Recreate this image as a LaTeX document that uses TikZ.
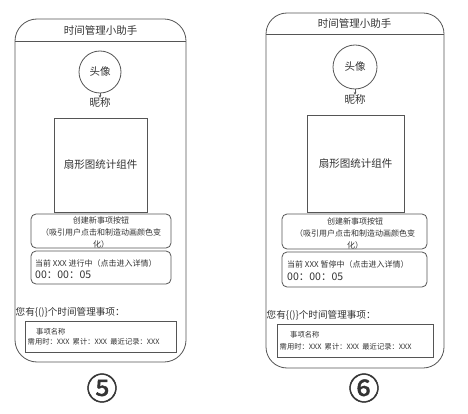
\documentclass[tikz,border=0pt]{standalone}
\usepackage{fontspec}
\setmainfont{Noto Sans CJK SC}
\newfontfamily\numfont[FakeBold=1.5]{Noto Sans CJK SC}
\usetikzlibrary{arrows.meta}
\definecolor{lc}{HTML}{555555}
\definecolor{tc}{HTML}{333333}
\tikzset{
  frame/.style={draw=lc, line width=0.8pt},
  box/.style={draw=lc, line width=0.8pt, rounded corners=5pt},
  txt/.style={text=tc, inner sep=0pt},
  ft/.style={font=\fontsize{10.5}{12}\selectfont},
  fs/.style={font=\fontsize{8}{12}\selectfont},
  fxs/.style={font=\fontsize{7.3}{9}\selectfont},
  fnum/.style={font=\fontsize{10.5}{12}\selectfont},
  fmid/.style={font=\fontsize{9.6}{12}\selectfont},
  avatar/.style={circle, draw=lc, line width=0.8pt, text=tc, inner sep=0pt},
  conn/.style={draw=lc, line width=0.6pt, -{Stealth[length=3pt,width=2.5pt]}},
  bigno/.style={text=tc, inner sep=0pt, font=\numfont\fontsize{31}{34}\selectfont}
}
\begin{document}
\begin{tikzpicture}[x=1pt,y=-1pt]
\useasboundingbox (0,0) rectangle (468,414);
\fill[white] (0,0) rectangle (468,414);
% ===== phone 5 =====
\draw[frame, rounded corners=22pt] (15,19) rectangle (186,362);
\draw[frame] (15,41) -- (186,41);
\node[txt, ft] (t5) at (100.5,30.5) {时间管理小助手};
\node[avatar, minimum size=42pt, ft] (a5) at (100,72) {头像};
\node[txt, ft] (n5) at (100,103) {昵称};
\draw[conn] (a5.south) -- (n5.north);
\draw[frame] (54,118) rectangle (147,212);
\node[txt, ft] (p5) at (100.5,165) {扇形图统计组件};
\draw[box] (31,214) rectangle (171,248);
\node[txt, fs, align=center] (b5) at (101,233) {创建新事项按钮\\（吸引用户点击和制造动画颜色变\\化）};
\draw[box] (31,251) rectangle (171,284);
\node[txt, fs, anchor=west] (s5) at (35,263) {当前 XXX 进行中（点击进入详情）};
\node[txt, fnum, anchor=west] (c5) at (35,274.5) {00：00：05};
\node[txt, fmid, anchor=west] (y5) at (15.5,312) {您有\{()\}个时间管理事项：};
\draw[frame] (25,321) rectangle (176,352);
\node[txt, fxs, anchor=west] (i5) at (36,332) {事项名称};
\node[txt, fxs, anchor=west] (d5) at (27.5,342) {需用时：XXX\ \ 累计：XXX\ \ 最近记录：XXX};
\node[bigno] (m5) at (102,388) {⑤};
% ===== phone 6 =====
\draw[frame, rounded corners=21pt] (266,13) rectangle (444,368);
\draw[frame] (266,34) -- (444,34);
\node[txt, ft] (t6) at (354.5,24) {时间管理小助手};
\node[avatar, minimum size=44pt, ft] (a6) at (355,67) {头像};
\node[txt, ft] (n6) at (355,100) {昵称};
\draw[conn] (a6.south) -- (n6.north);
\draw[frame] (307,115) rectangle (404,212);
\node[txt, ft] (p6) at (355.5,164) {扇形图统计组件};
\draw[box] (282,214) rectangle (427,249);
\node[txt, fs, align=center] (b6) at (355,233.5) {创建新事项按钮\\（吸引用户点击和制造动画颜色变\\化）};
\draw[box] (282,252) rectangle (427,287);
\node[txt, fs, anchor=west] (s6) at (287,264) {当前 XXX 暂停中（点击进入详情）};
\node[txt, fnum, anchor=west] (c6) at (287,276.5) {00：00：05};
\node[txt, fmid, anchor=west] (y6) at (266.5,315) {您有\{()\}个时间管理事项：};
\draw[frame] (277,324) rectangle (433,357);
\node[txt, fxs, anchor=west] (i6) at (290,335) {事项名称};
\node[txt, fxs, anchor=west] (d6) at (279.5,347) {需用时：XXX\ \ 累计：XXX\ \ 最近记录：XXX};
\node[bigno] (m6) at (364,388) {⑥};
\end{tikzpicture}
\end{document}
